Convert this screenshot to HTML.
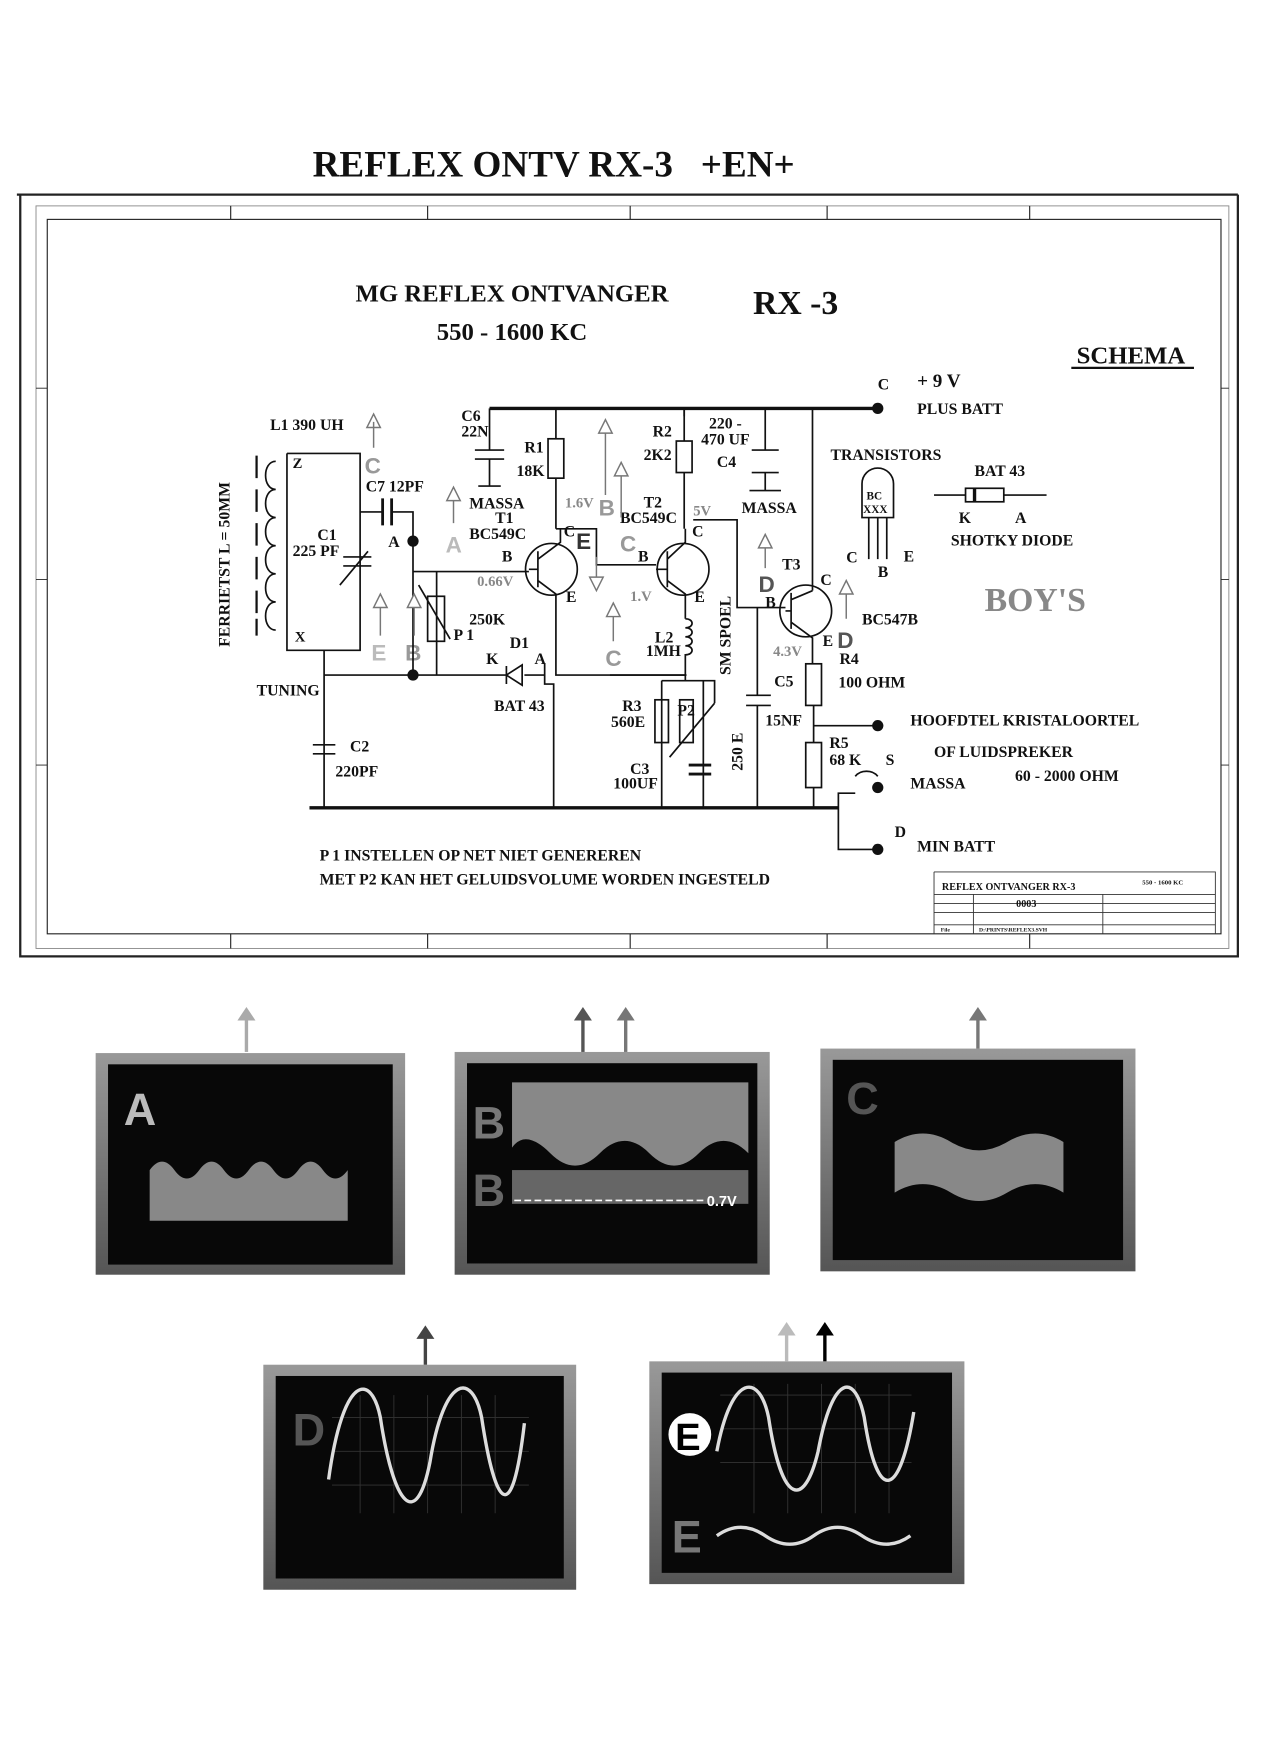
<!DOCTYPE html>
<html><head><meta charset="utf-8"><style>
html,body{margin:0;padding:0;background:#fff;}
svg{display:block;}
text{font-family:"Liberation Serif",serif;font-weight:bold;fill:#111;}
text.s{font-family:"Liberation Sans",sans-serif;font-weight:bold;}
</style></head><body>
<svg width="1275" height="1754" viewBox="0 0 1133 1559" preserveAspectRatio="none" xmlns="http://www.w3.org/2000/svg">
<defs>
<linearGradient id="fr" x1="0" y1="0" x2="0" y2="1"><stop offset="0" stop-color="#999"/><stop offset="1" stop-color="#555"/></linearGradient>
</defs>
<text x="492" y="157" font-size="33" text-anchor="middle">REFLEX ONTV RX-3 &#160; +EN+</text>
<g stroke="#222" fill="none">
<path d="M15,173 H1100" stroke-width="2"/>
<path d="M18,173 V850 H1100 V173" stroke-width="2"/>
<rect x="32" y="183" width="1060" height="660" stroke-width="0.8" stroke="#888"/>
<rect x="42" y="195" width="1043" height="635" stroke-width="1"/>
<path d="M205,183V195M380,183V195M560,183V195M735,183V195M915,183V195M205,830V843M380,830V843M560,830V843M735,830V843M915,830V843" stroke-width="1"/>
<path d="M32,345H42M32,515H42M32,680H42M1085,345H1092M1085,515H1092M1085,680H1092" stroke-width="0.8"/>
</g>
<text x="455" y="268" font-size="22" text-anchor="middle">MG REFLEX ONTVANGER</text>
<text x="455" y="302" font-size="22" text-anchor="middle">550 - 1600 KC</text>
<text x="707" y="279" font-size="30" text-anchor="middle">RX -3</text>
<text x="1005" y="323" font-size="22" text-anchor="middle">SCHEMA</text>
<line x1="952" y1="327" x2="1061" y2="327" stroke="#111" stroke-width="2"/>
<text x="920" y="543" font-size="30" text-anchor="middle" style="fill:#888">BOY'S</text>
<g font-size="14">
<text x="780" y="346">C</text><text x="815" y="344" font-size="17">+ 9 V</text>
<text x="815" y="368">PLUS BATT</text>
<text x="738" y="409">TRANSISTORS</text>
<text x="866" y="423">BAT 43</text>
<text x="852" y="465">K</text><text x="902" y="465">A</text>
<text x="845" y="485">SHOTKY DIODE</text>
<text x="752" y="500">C</text><text x="803" y="499">E</text><text x="780" y="513">B</text>
<text x="766" y="555">BC547B</text>
<text x="746" y="590">R4</text><text x="745" y="611">100 OHM</text>
<text x="809" y="645">HOOFDTEL KRISTALOORTEL</text>
<text x="830" y="673">OF LUIDSPREKER</text>
<text x="809" y="701">MASSA</text><text x="902" y="694">60 - 2000 OHM</text>
<text x="795" y="744">D</text><text x="815" y="757">MIN BATT</text>
<text x="787" y="680">S</text>
<text x="284" y="765">P 1  INSTELLEN OP NET NIET GENEREREN</text>
<text x="284" y="786">MET P2 KAN HET GELUIDSVOLUME WORDEN INGESTELD</text>
<text x="240" y="382">L1  390 UH</text>
<text x="260" y="416" font-size="13">Z</text><text x="262" y="570" font-size="13">X</text>
<text x="282" y="480">C1</text><text x="260" y="494">225 PF</text>
<text x="325" y="437">C7  12PF</text>
<text x="345" y="486">A</text>
<text x="403" y="569">P 1</text><text x="417" y="555">250K</text>
<text x="453" y="576">D1</text><text x="432" y="590">K</text><text x="475" y="590">A</text>
<text x="439" y="632">BAT 43</text>
<text x="228" y="618">TUNING</text>
<text x="311" y="668">C2</text><text x="298" y="690">220PF</text>
<text x="410" y="374">C6</text><text x="410" y="388">22N</text>
<text x="466" y="402">R1</text><text x="459" y="423">18K</text>
<text x="417" y="452">MASSA</text><text x="440" y="465">T1</text><text x="417" y="479">BC549C</text>
<text x="446" y="499">B</text><text x="501" y="477">C</text><text x="503" y="535">E</text>
<text x="580" y="388">R2</text><text x="572" y="409">2K2</text>
<text x="630" y="381">220 -</text><text x="623" y="395">470 UF</text><text x="637" y="415">C4</text>
<text x="572" y="451">T2</text><text x="551" y="465">BC549C</text>
<text x="615" y="477">C</text><text x="617" y="535">E</text><text x="567" y="499">B</text>
<text x="659" y="456">MASSA</text>
<text x="695" y="506">T3</text><text x="729" y="520">C</text><text x="680" y="540">B</text><text x="731" y="574">E</text>
<text x="582" y="571">L2</text><text x="574" y="583">1MH</text>
<text x="553" y="632">R3</text><text x="543" y="646">560E</text>
<text x="602" y="636">P2</text>
<text x="560" y="688">C3</text><text x="545" y="701">100UF</text>
<text x="688" y="610">C5</text><text x="680" y="645">15NF</text>
<text x="737" y="665">R5</text><text x="737" y="680">68 K</text>
<text x="204" y="575" transform="rotate(-90 204 575)">FERRIETST  L = 50MM</text>
<text x="649" y="600" transform="rotate(-90 649 600)">SM SPOEL</text>
<text x="660" y="685" transform="rotate(-90 660 685)">250 E</text>
</g>
<g font-size="13">
<text x="424" y="521" style="fill:#888">0.66V</text><text x="502" y="451" style="fill:#888">1.6V</text><text x="560" y="534" style="fill:#888">1.V</text>
<text x="616" y="458" style="fill:#888">5V</text><text x="687" y="583" style="fill:#888">4.3V</text>
</g>
<g font-size="20">
<text x="324" y="421" class="s" style="fill:#999">C</text><text x="396" y="491" class="s" style="fill:#bbb">A</text>
<text x="330" y="587" class="s" style="fill:#bbb">E</text><text x="360" y="587" class="s" style="fill:#999">B</text>
<text x="532" y="458" class="s" style="fill:#999">B</text><text x="551" y="490" class="s" style="fill:#999">C</text><text x="538" y="592" class="s" style="fill:#999">C</text>
<text x="674" y="526" class="s" style="fill:#555">D</text><text x="744" y="576" class="s" style="fill:#555">D</text>
<text x="512" y="488" class="s" style="fill:#333">E</text>
</g>
<g stroke="#111" fill="none" stroke-width="1.5">
<path d="M435,363H780" stroke-width="3"/>
<path d="M275,718H745" stroke-width="3"/>
<path d="M255,403H320V578H255V403"/>
<path d="M245,410 c-12,0 -12,25 0,25 c-12,0 -12,25 0,25 c-12,0 -12,25 0,25 c-12,0 -12,25 0,25 c-12,0 -12,25 0,25 c-12,0 -12,25 0,25"/>
<path d="M228,405v20M228,435v20M228,465v20M228,495v20M228,525v20M228,550v15" stroke-width="2"/>
<path d="M305,495h25M305,503h25M302,520l25,-30"/>
<path d="M320,455H340M348,455H367V600"/>
<path d="M340,443v24M348,443v24" stroke-width="2.5"/>
<path d="M288,578V718M278,662h20M278,670h20"/>
<path d="M288,600H450M466,600H484"/>
<path d="M450,592v16M450,600l14,-9v18z"/>
<path d="M367,508H470M388,508V600"/>
<rect x="380" y="530" width="15" height="40"/>
<path d="M372,520l28,48"/>
<path d="M484,600V590M484,600V608H492V718"/>
<path d="M435,363V400M422,400h26M422,408h26M425,432h20M435,408V432" />
<path d="M494,363V390M494,425V470"/>
<rect x="487" y="390" width="14" height="35"/>
<circle cx="490" cy="506" r="23"/>
<path d="M478,490v32M478,506H470M478,497l20,-15V470M478,516l16,12v72H610"/>
<path d="M494,470H530V502H583"/>
<path d="M608,363V392M608,420V470"/>
<rect x="601" y="392" width="14" height="28"/>
<circle cx="607" cy="506" r="23"/>
<path d="M593,490v32M593,506H583M593,497l16,-15V470M593,516l16,12V550M609,550c8,0 8,8 0,8c8,0 8,8 0,8c8,0 8,8 0,8c8,0 8,8 0,8V605"/>
<path d="M542,600H610"/>
<path d="M588,605H635V625M588,605V718M625,605V718"/>
<rect x="582" y="622" width="12" height="38"/><rect x="604" y="622" width="12" height="38"/>
<path d="M635,625l-40,48"/>
<path d="M612,680h20M612,688h20" stroke-width="2.5"/>
<path d="M608,363V370M680,363V400M668,400h24M668,420h24M680,420V436M666,436h28"/>
<path d="M616,462H655V540H698M673,540V618M663,618h22M663,627h22M673,627V718"/>
<path d="M722,363V525"/>
<circle cx="716" cy="543" r="23"/>
<path d="M703,527v32M703,543H698M703,533l19,-8M703,553l19,14V590"/>
<rect x="716" y="590" width="14" height="37"/>
<path d="M723,627V660M723,645H780M723,700V718"/>
<rect x="716" y="660" width="14" height="40"/>
<path d="M745,718V705H760M745,718V755H780"/>
<path d="M760,690 a12,10 0 0 1 20,0"/>
<path d="M830,440H858M892,440H930"/><rect x="858" y="434" width="34" height="12"/>
<path d="M866,434v12" stroke-width="3"/>
<path d="M766,460V430a14,14 0 0 1 28,0V460z"/>
<path d="M772,460V497M780,460V497M788,460V497"/>
</g>
<text x="770" y="444" font-size="10">BC</text><text x="767" y="456" font-size="10">XXX</text>
<g fill="#111"><circle cx="780" cy="363" r="5"/><circle cx="367" cy="481" r="5"/><circle cx="367" cy="600" r="5"/><circle cx="780" cy="645" r="5"/><circle cx="780" cy="700" r="5"/><circle cx="780" cy="755" r="5"/></g>
<g stroke="#777" fill="#fff" stroke-width="1.3">
<path d="M332,398V375M326,380l6,-12l6,12z"/>
<path d="M403,465V445M397,445l6,-12l6,12z"/>
<path d="M338,565V540M332,540l6,-12l6,12z"/>
<path d="M368,565V540M362,540l6,-12l6,12z"/>
<path d="M538,440V385M532,385l6,-12l6,12z"/>
<path d="M552,460V423M546,423l6,-12l6,12z"/>
<path d="M545,570V548M539,548l6,-12l6,12z"/>
<path d="M680,505V487M674,487l6,-12l6,12z"/>
<path d="M752,550V528M746,528l6,-12l6,12z"/>
<path d="M530,495V513M524,513l6,12l6,-12z"/>
</g>
<g stroke="#333" fill="none" stroke-width="0.8">
<path d="M830,775H1080V830M830,775V830M830,795H1080M830,803H1080M830,822H1080M830,811H1080M865,795V811M980,795V811M865,811V830M980,811V830"/>
</g>
<g font-size="9"><text x="837" y="791">REFLEX ONTVANGER  RX-3</text><text x="1015" y="786" font-size="6">550 - 1600 KC</text><text x="903" y="806">0003</text><text x="836" y="828" font-size="5">File</text><text x="870" y="828" font-size="5">D:\PRINTS\REFLEX3.SVH</text></g>
<g>
<rect x="85" y="936" width="275" height="197" fill="url(#fr)"/><rect x="96" y="946" width="253" height="178" fill="#080808"/>
<rect x="404" y="935" width="280" height="198" fill="url(#fr)"/><rect x="415" y="945" width="258" height="178" fill="#080808"/>
<rect x="729" y="932" width="280" height="198" fill="url(#fr)"/><rect x="740" y="942" width="258" height="178" fill="#080808"/>
<rect x="234" y="1213" width="278" height="200" fill="url(#fr)"/><rect x="245" y="1223" width="256" height="180" fill="#080808"/>
<rect x="577" y="1210" width="280" height="198" fill="url(#fr)"/><rect x="588" y="1220" width="258" height="178" fill="#080808"/>
</g>
<g font-size="40">
<text class="s" x="110" y="1000" style="fill:#bbb">A</text><text class="s" x="420" y="1012" style="fill:#777">B</text><text class="s" x="420" y="1072" style="fill:#666">B</text>
<text class="s" x="752" y="990" style="fill:#555">C</text><text class="s" x="260" y="1285" style="fill:#555">D</text><text class="s" x="597" y="1380" style="fill:#777">E</text>
</g>
<circle cx="613" cy="1275" r="19" fill="#fff"/><text class="s" x="600" y="1289" font-size="34" style="fill:#000">E</text>
<path d="M133,1040 q11,-15 22,0 t22,0 t22,0 t22,0 t22,0 t22,0 t22,0 t22,0 V1085 H133z" fill="#888"/>
<path d="M455,962 H665 V1025 q-22,-22 -44,0 t-44,0 t-44,0 t-44,0 t-34,-5z" fill="#888"/>
<rect x="455" y="1040" width="210" height="30" fill="#666"/>
<path d="M457,1067H628" stroke="#fff" stroke-dasharray="6,3" stroke-width="1.5"/>
<text class="s" x="628" y="1072" font-size="13" style="fill:#fff">0.7V</text>
<path d="M795,1015 q25,-15 50,0 t50,0 t50,0 V1060 q-25,-15 -50,0 t-50,0 t-50,0z" fill="#888"/>
<g stroke="#333" stroke-width="0.8">
<path d="M295,1260H470M295,1290H470M295,1320H470M320,1240V1345M350,1240V1345M380,1240V1345M410,1240V1345M440,1240V1345"/>
<path d="M640,1240H810M640,1270H810M640,1300H810M670,1230V1345M700,1230V1345M730,1230V1345M760,1230V1345M790,1230V1345"/>
</g>
<path d="M292,1315 C305,1220 330,1220 338,1260 C350,1340 370,1360 382,1300 C395,1220 420,1220 428,1260 C440,1340 455,1360 466,1265" stroke="#ddd" stroke-width="3" fill="none"/>
<path d="M637,1290 C650,1220 675,1220 683,1260 C695,1340 715,1340 727,1290 C740,1220 760,1220 768,1260 C780,1340 800,1330 812,1255" stroke="#ddd" stroke-width="3" fill="none"/>
<path d="M637,1365 q21,-15 43,0 t43,0 t43,0 t43,0" stroke="#ddd" stroke-width="3" fill="none"/>
<g stroke-width="3">
<path d="M219,935V905" stroke="#aaa"/><path d="M211,907l8,-12l8,12z" fill="#aaa"/>
<path d="M518,935V905" stroke="#555"/><path d="M510,907l8,-12l8,12z" fill="#555"/>
<path d="M556,935V905" stroke="#777"/><path d="M548,907l8,-12l8,12z" fill="#777"/>
<path d="M869,932V905" stroke="#777"/><path d="M861,907l8,-12l8,12z" fill="#777"/>
<path d="M378,1213V1188" stroke="#444"/><path d="M370,1190l8,-12l8,12z" fill="#444"/>
<path d="M699,1210V1185" stroke="#bbb"/><path d="M691,1187l8,-12l8,12z" fill="#bbb"/>
<path d="M733,1210V1185" stroke="#000"/><path d="M725,1187l8,-12l8,12z" fill="#000"/>
</g>
</svg>
</body></html>
